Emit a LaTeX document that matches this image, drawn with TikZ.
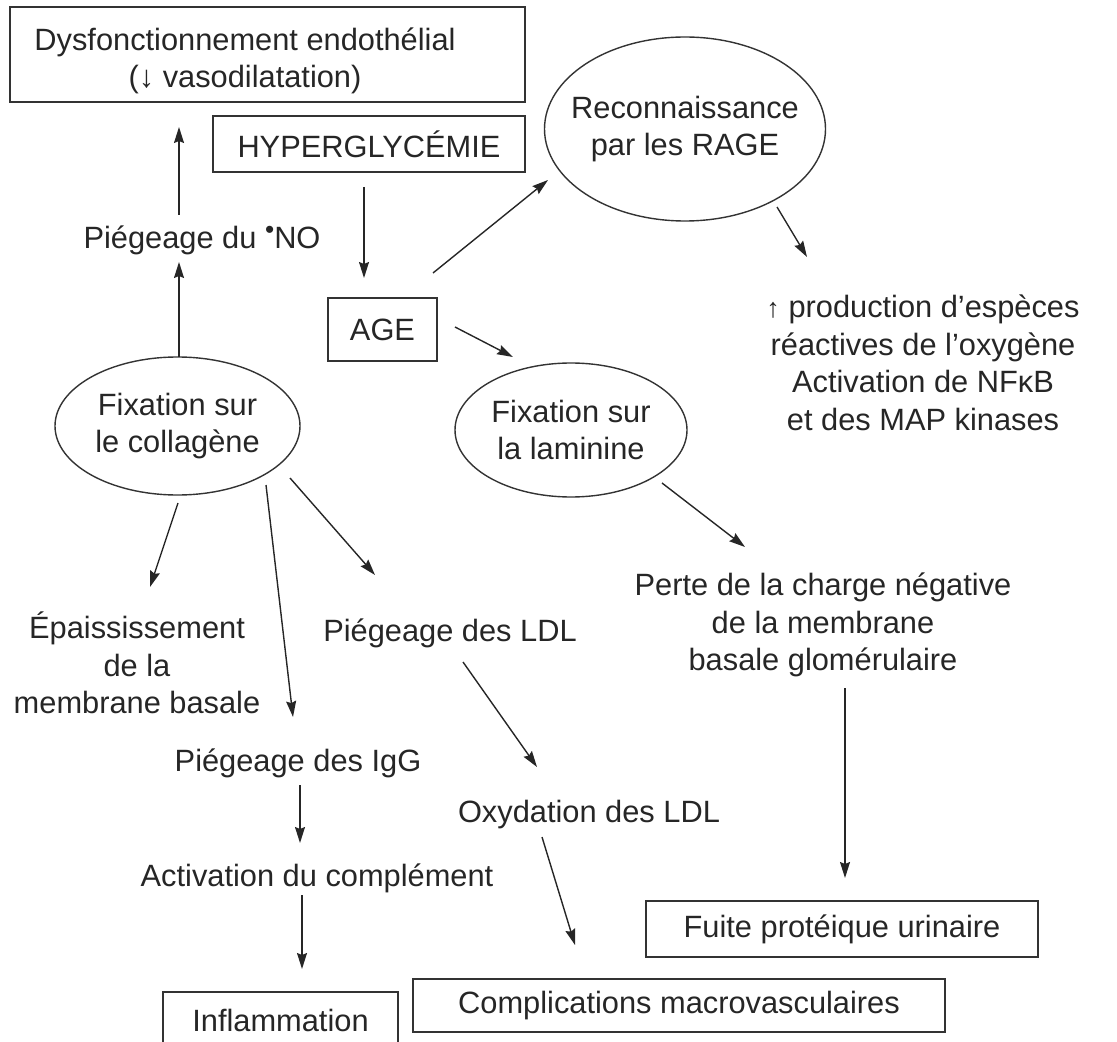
\documentclass[tikz,border=0pt]{standalone}
\usepackage{fontspec}
\setmainfont{Liberation Sans}
\usetikzlibrary{shapes.geometric,arrows.meta}
\tikzset{
  >={Stealth[length=8pt,width=5pt,inset=1pt]},
  fleche/.style={draw=black!85, line width=0.7pt, ->},
}

\begin{document}
\begin{tikzpicture}[x=0.5pt, y=-0.5pt, font=\fontsize{15.4}{18.8}\selectfont]
  \tikzset{
      cadre/.style={rectangle, draw=black!80, line width=0.9pt, inner sep=0pt, text=black!85},
      bulle/.style={ellipse, draw=black!80, line width=0.7pt, inner sep=-10pt, align=center, text=black!85},
      libelle/.style={align=center, inner sep=1pt, text=black!85},
  }
  \useasboundingbox (0,0) rectangle (1117,1042);

  \node[cadre, minimum width=257.5pt, minimum height=47.5pt] (item1) at (267.5,54.5) {};
  \node[libelle] (item2) at (245,61) {Dysfonctionnement endothélial\\(↓ vasodilatation)};
  \node[cadre, minimum width=156pt, minimum height=28pt] (item3) at (369,144) {HYPERGLYCÉMIE};
  \node[libelle] (item4) at (202,240) {Piégeage du \raisebox{0.3em}{\scalebox{0.85}{•}}NO};
  \node[cadre, minimum width=54.5pt, minimum height=31.5pt] (item5) at (382.5,329.5) {AGE};
  \node[bulle, minimum width=140.5pt, minimum height=92pt] (item6) at (685,129) {Reconnaissance\\par les RAGE};
  \node[libelle] (item7) at (923,363) {{\fontsize{13.5}{13.5}\selectfont↑}~production d’espèces\\réactives de l’oxygène\\Activation de NFκB\\et des MAP kinases};
    \node[bulle, minimum width=116pt, minimum height=67pt] (item8) at (571,430) {Fixation sur\\la laminine};
  \node[bulle, minimum width=122.5pt, minimum height=69pt] (item9) at (177.5,426) {Fixation sur\\le collagène};
    \node[libelle] (item10) at (137,663) {Épaississement\\de la\\membrane basale};
    \node[libelle] (item11) at (450,633) {Piégeage des LDL};
    \node[libelle] (item12) at (298,763) {Piégeage des IgG};
    \node[libelle] (item13) at (317,878) {Activation du complément};
    \node[libelle] (item14) at (589,815) {Oxydation des LDL};
    \node[libelle] (item15) at (823,625) {Perte de la charge négative\\de la membrane\\basale glomérulaire};
  \node[cadre, minimum width=117.5pt, minimum height=28pt] (item16) at (280.5,1020) {Inflammation};
  \node[cadre, minimum width=266pt, minimum height=26.5pt] (item17) at (679,1005.5) {Complications macrovasculaires};
  \node[cadre, minimum width=196pt, minimum height=28pt] (item18) at (842,929) {Fuite protéique urinaire};

  \path[fleche] ([shift={(-23,-25)}]item4.center) -- ([shift={(-88.5,72.5)}]item1.center);
  \path[fleche] ([shift={(1.5,-69)}]item9.center) -- ([shift={(-23,22)}]item4.center);
  \path[fleche] ([shift={(-5,43)}]item3.center) -- ([shift={(-18.5,-51.5)}]item5.center);
  \path[fleche] ([shift={(50.5,-56.5)}]item5.center) -- ([shift={(-137,51)}]item6.center);
  \path[fleche] ([shift={(92,78)}]item6.center) -- ([shift={(-116,-106)}]item7.center);
  \path[fleche] ([shift={(72.5,-2.5)}]item5.center) -- ([shift={(-58,-73)}]item8.center);
  \path[fleche] ([shift={(0.5,77)}]item9.center) -- ([shift={(13,-76)}]item10.center);
  \path[fleche] ([shift={(88.5,59)}]item9.center) -- ([shift={(-5,-46)}]item12.center);
  \path[fleche] ([shift={(112.5,52)}]item9.center) -- ([shift={(-75,-58)}]item11.center);
  \path[fleche] ([shift={(13,29)}]item11.center) -- ([shift={(-52,-48)}]item14.center);
  \path[fleche] ([shift={(2,22)}]item12.center) -- ([shift={(-17,-35)}]item13.center);
  \path[fleche] ([shift={(-15,17)}]item13.center) -- ([shift={(21.5,-51)}]item16.center);
  \path[fleche] ([shift={(-47,22)}]item14.center) -- ([shift={(-104,-60.5)}]item17.center);
  \path[fleche] ([shift={(91,53)}]item8.center) -- ([shift={(-78,-78)}]item15.center);
  \path[fleche] ([shift={(22,63)}]item15.center) -- ([shift={(3,-51)}]item18.center);

\end{tikzpicture}
\end{document}
